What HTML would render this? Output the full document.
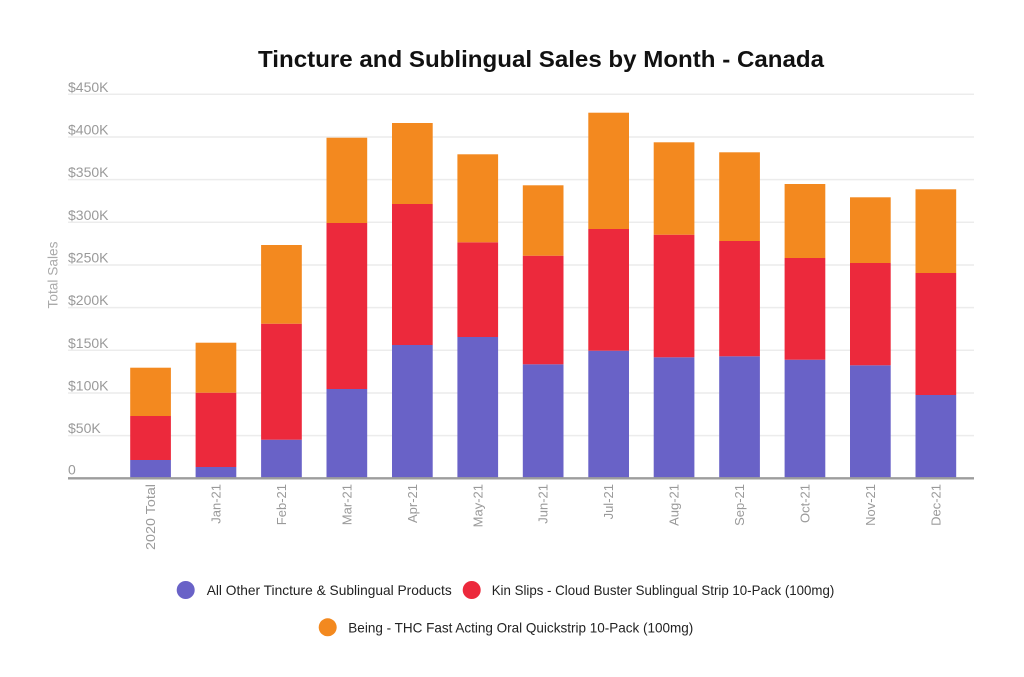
<!DOCTYPE html>
<html>
<head>
<meta charset="utf-8">
<style>
  html, body { margin: 0; padding: 0; background: #ffffff; }
  body { width: 1024px; height: 677px; overflow: hidden; }
  svg { display: block; font-family: "Liberation Sans", sans-serif; }
</style>
</head>
<body>
<svg width="1024" height="677" viewBox="0 0 1024 677" xmlns="http://www.w3.org/2000/svg">
  <rect x="0" y="0" width="1024" height="677" fill="#ffffff"/>

  <!-- Title -->
  <text x="258" y="67" font-size="23" font-weight="bold" fill="#111111" textLength="566" lengthAdjust="spacingAndGlyphs">Tincture and Sublingual Sales by Month - Canada</text>

  <!-- Gridlines -->
  <g stroke="#ececec" stroke-width="1.5">
    <line x1="68" y1="94.3" x2="974" y2="94.3"/>
    <line x1="68" y1="137" x2="974" y2="137"/>
    <line x1="68" y1="179.6" x2="974" y2="179.6"/>
    <line x1="68" y1="222.3" x2="974" y2="222.3"/>
    <line x1="68" y1="265" x2="974" y2="265"/>
    <line x1="68" y1="307.6" x2="974" y2="307.6"/>
    <line x1="68" y1="350.3" x2="974" y2="350.3"/>
    <line x1="68" y1="393" x2="974" y2="393"/>
    <line x1="68" y1="435.6" x2="974" y2="435.6"/>
  </g>

  <!-- Y labels -->
  <g font-size="14" fill="#9a9a9a">
    <text x="68" y="91.8">$450K</text>
    <text x="68" y="134.5">$400K</text>
    <text x="68" y="177.1">$350K</text>
    <text x="68" y="219.8">$300K</text>
    <text x="68" y="262.5">$250K</text>
    <text x="68" y="305.1">$200K</text>
    <text x="68" y="347.8">$150K</text>
    <text x="68" y="390.5">$100K</text>
    <text x="68" y="433.1">$50K</text>
    <text x="68" y="474.3">0</text>
  </g>

  <!-- Y axis title -->
  <text transform="translate(57.5,275) rotate(-90)" text-anchor="middle" font-size="14" fill="#aaaaaa" textLength="67" lengthAdjust="spacingAndGlyphs">Total Sales</text>

  <!-- Bars -->
  <g>
    <!-- 2020 Total -->
    <rect x="130.2" y="460" width="40.7" height="18" fill="#6962c7"/>
    <rect x="130.2" y="416" width="40.7" height="44" fill="#ec293c"/>
    <rect x="130.2" y="367.7" width="40.7" height="48.3" fill="#f3891f"/>
    <!-- Jan -->
    <rect x="195.6" y="467" width="40.7" height="11" fill="#6962c7"/>
    <rect x="195.6" y="392.7" width="40.7" height="74.3" fill="#ec293c"/>
    <rect x="195.6" y="342.7" width="40.7" height="50" fill="#f3891f"/>
    <!-- Feb -->
    <rect x="261.1" y="439.7" width="40.7" height="38.3" fill="#6962c7"/>
    <rect x="261.1" y="323.7" width="40.7" height="116" fill="#ec293c"/>
    <rect x="261.1" y="245" width="40.7" height="78.7" fill="#f3891f"/>
    <!-- Mar -->
    <rect x="326.5" y="389" width="40.7" height="89" fill="#6962c7"/>
    <rect x="326.5" y="223" width="40.7" height="166" fill="#ec293c"/>
    <rect x="326.5" y="137.7" width="40.7" height="85.3" fill="#f3891f"/>
    <!-- Apr -->
    <rect x="392.0" y="345" width="40.7" height="133" fill="#6962c7"/>
    <rect x="392.0" y="204" width="40.7" height="141" fill="#ec293c"/>
    <rect x="392.0" y="123" width="40.7" height="81" fill="#f3891f"/>
    <!-- May -->
    <rect x="457.4" y="337" width="40.7" height="141" fill="#6962c7"/>
    <rect x="457.4" y="242.3" width="40.7" height="94.7" fill="#ec293c"/>
    <rect x="457.4" y="154.3" width="40.7" height="88" fill="#f3891f"/>
    <!-- Jun -->
    <rect x="522.8" y="364.3" width="40.7" height="113.7" fill="#6962c7"/>
    <rect x="522.8" y="255.7" width="40.7" height="108.6" fill="#ec293c"/>
    <rect x="522.8" y="185.3" width="40.7" height="70.4" fill="#f3891f"/>
    <!-- Jul -->
    <rect x="588.3" y="350.7" width="40.7" height="127.3" fill="#6962c7"/>
    <rect x="588.3" y="229" width="40.7" height="121.7" fill="#ec293c"/>
    <rect x="588.3" y="112.7" width="40.7" height="116.3" fill="#f3891f"/>
    <!-- Aug -->
    <rect x="653.7" y="357.3" width="40.7" height="120.7" fill="#6962c7"/>
    <rect x="653.7" y="234.7" width="40.7" height="122.6" fill="#ec293c"/>
    <rect x="653.7" y="142.3" width="40.7" height="92.4" fill="#f3891f"/>
    <!-- Sep -->
    <rect x="719.2" y="356.3" width="40.7" height="121.7" fill="#6962c7"/>
    <rect x="719.2" y="241" width="40.7" height="115.3" fill="#ec293c"/>
    <rect x="719.2" y="152.3" width="40.7" height="88.7" fill="#f3891f"/>
    <!-- Oct -->
    <rect x="784.6" y="359.7" width="40.7" height="118.3" fill="#6962c7"/>
    <rect x="784.6" y="258" width="40.7" height="101.7" fill="#ec293c"/>
    <rect x="784.6" y="184" width="40.7" height="74" fill="#f3891f"/>
    <!-- Nov -->
    <rect x="850.0" y="365.3" width="40.7" height="112.7" fill="#6962c7"/>
    <rect x="850.0" y="263" width="40.7" height="102.3" fill="#ec293c"/>
    <rect x="850.0" y="197.3" width="40.7" height="65.7" fill="#f3891f"/>
    <!-- Dec -->
    <rect x="915.5" y="395" width="40.7" height="83" fill="#6962c7"/>
    <rect x="915.5" y="273" width="40.7" height="122" fill="#ec293c"/>
    <rect x="915.5" y="189.3" width="40.7" height="83.7" fill="#f3891f"/>
  </g>

  <!-- X axis line -->
  <line x1="68" y1="478.3" x2="974" y2="478.3" stroke="#9d9d9d" stroke-width="2.4"/>

  <!-- X labels -->
  <g font-size="13" fill="#9a9a9a" text-anchor="end">
    <text transform="translate(155,484) rotate(-90)" textLength="66" lengthAdjust="spacingAndGlyphs">2020 Total</text>
    <text transform="translate(220.5,484) rotate(-90)">Jan-21</text>
    <text transform="translate(286,484) rotate(-90)">Feb-21</text>
    <text transform="translate(351.4,484) rotate(-90)">Mar-21</text>
    <text transform="translate(416.9,484) rotate(-90)">Apr-21</text>
    <text transform="translate(482.3,484) rotate(-90)">May-21</text>
    <text transform="translate(547.7,484) rotate(-90)">Jun-21</text>
    <text transform="translate(613.2,484) rotate(-90)">Jul-21</text>
    <text transform="translate(678.6,484) rotate(-90)">Aug-21</text>
    <text transform="translate(744.1,484) rotate(-90)">Sep-21</text>
    <text transform="translate(809.5,484) rotate(-90)">Oct-21</text>
    <text transform="translate(874.9,484) rotate(-90)">Nov-21</text>
    <text transform="translate(940.4,484) rotate(-90)">Dec-21</text>
  </g>

  <!-- Legend -->
  <circle cx="185.7" cy="590" r="9" fill="#6962c7"/>
  <text x="206.7" y="595" font-size="14" fill="#222222" textLength="245" lengthAdjust="spacingAndGlyphs">All Other Tincture &amp; Sublingual Products</text>
  <circle cx="471.7" cy="590" r="9" fill="#ec293c"/>
  <text x="491.7" y="595" font-size="14" fill="#222222" textLength="342.6" lengthAdjust="spacingAndGlyphs">Kin Slips - Cloud Buster Sublingual Strip 10-Pack (100mg)</text>
  <circle cx="327.7" cy="627.3" r="9" fill="#f3891f"/>
  <text x="348.3" y="632.3" font-size="14" fill="#222222" textLength="345" lengthAdjust="spacingAndGlyphs">Being - THC Fast Acting Oral Quickstrip 10-Pack (100mg)</text>
</svg>
</body>
</html>
